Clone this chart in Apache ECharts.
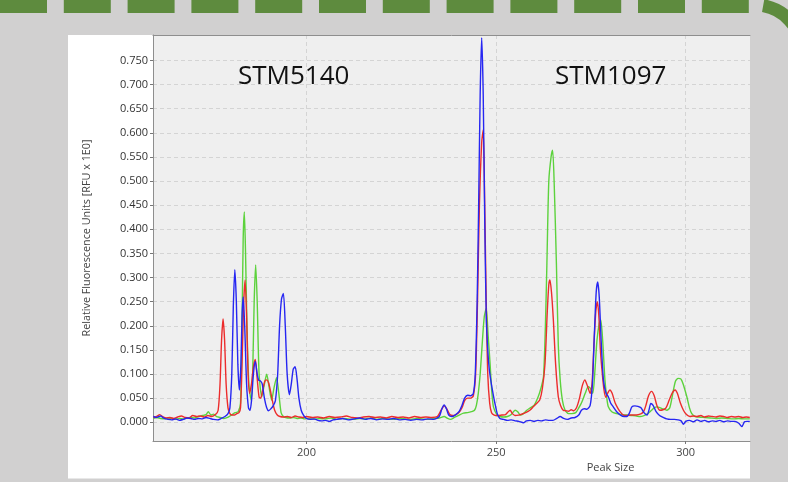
<!DOCTYPE html>
<html>
<head>
<meta charset="utf-8">
<script src="https://cdn.jsdelivr.net/npm/echarts/dist/echarts.min.js"></script>
<style>html,body{margin:0;padding:0;background:#d1d0d0;}#c{width:788px;height:482px;}</style>
</head>
<body>
<div id="c"></div>
<script>
// ---- data (Peak Size vs RFU) ----
const xTicks = [200, 250, 300];
const yAxisTitle = 'Relative Fluorescence Units [RFU x 1E0]';
const xAxisTitle = 'Peak Size';
const markerLabels = ['STM5140', 'STM1097'];

const redSize = [159.6,160.5,161.3,162.2,163,164,165,166,167,168,169,170,171,172,173,174,175,176,176.7,177.2,177.6,178,178.4,178.8,179.3,179.8,180.3,181,181.6,182.2,182.6,183,183.4,183.8,184.2,184.6,185,185.5,186,186.5,187,187.5,187.9,188.4,189,189.5,190,190.5,191,191.6,192.3,193,194,195,196,197,198,199,200,201.5,203,204.5,206,207.5,209,210.5,212,213.5,215,216.5,218,219.5,221,222.5,224,225.5,227,228.5,230,231.5,233,234.5,235.5,236.3,237,237.8,238.6,239.4,240.2,241,241.7,242.5,243.3,244,244.6,245.1,245.6,246.2,246.6,247,247.4,247.8,248.3,248.8,249.5,250.5,251.5,252.5,253.2,253.7,254.3,255,256,256.8,257.8,258.9,259.8,260.8,261.5,262.2,262.9,263.5,263.9,264.2,264.6,265.1,265.7,266.4,267,267.7,268.4,269.1,269.8,270.5,271.2,272,272.7,273.4,274.1,274.8,275.3,275.8,276.3,276.7,277.1,277.5,277.9,278.4,278.9,279.4,280,280.6,281.4,282.2,282.9,283.6,284.5,285.5,286.5,287.5,288.3,288.9,289.5,290.2,291,291.7,292.4,293.2,294,294.8,295.6,296.4,297.2,297.8,298.6,299.4,300.2,301.1,302,303,304,305,306,307,308,309,310,311,312,313,314,315,316,316.9];
const redRFU = [0.010,0.012,0.016,0.011,0.009,0.010,0.008,0.011,0.013,0.010,0.009,0.014,0.012,0.013,0.011,0.014,0.012,0.016,0.025,0.080,0.170,0.214,0.170,0.080,0.030,0.018,0.015,0.015,0.018,0.020,0.030,0.120,0.240,0.295,0.220,0.100,0.060,0.080,0.115,0.130,0.090,0.052,0.050,0.065,0.085,0.088,0.082,0.065,0.045,0.025,0.015,0.012,0.011,0.012,0.010,0.013,0.011,0.010,0.012,0.010,0.011,0.009,0.012,0.010,0.011,0.013,0.010,0.009,0.011,0.012,0.010,0.011,0.009,0.012,0.010,0.011,0.009,0.012,0.010,0.011,0.010,0.012,0.025,0.034,0.028,0.016,0.014,0.016,0.020,0.030,0.045,0.050,0.050,0.055,0.100,0.250,0.450,0.580,0.606,0.450,0.250,0.100,0.040,0.020,0.015,0.014,0.015,0.016,0.022,0.025,0.018,0.014,0.015,0.017,0.020,0.025,0.032,0.040,0.046,0.070,0.122,0.230,0.285,0.295,0.270,0.212,0.120,0.053,0.035,0.025,0.024,0.023,0.026,0.024,0.030,0.050,0.075,0.088,0.075,0.060,0.080,0.160,0.230,0.250,0.220,0.150,0.110,0.070,0.052,0.060,0.067,0.060,0.040,0.028,0.020,0.015,0.014,0.015,0.015,0.016,0.018,0.022,0.035,0.055,0.064,0.055,0.035,0.025,0.026,0.030,0.045,0.060,0.067,0.060,0.040,0.025,0.016,0.012,0.013,0.012,0.014,0.011,0.013,0.012,0.011,0.013,0.012,0.010,0.012,0.011,0.012,0.010,0.011,0.010];

const greenSize = [159.6,160.5,161.5,162.5,163.5,164.5,165.5,166.5,167.5,168.5,169.5,170.5,171.5,172.5,173.5,174.1,174.8,175.5,176.3,177.2,178.2,179.2,180.2,181.2,182,182.6,183,183.3,183.6,183.9,184.3,184.8,185.4,185.8,186.2,186.6,187,187.5,188.2,188.8,189.5,190.1,190.8,191.4,192.1,192.7,193.3,193.9,194.5,195.5,196.5,197.5,198.5,199.5,200.5,202,203.5,205,206.5,208,209.5,211,212.5,214,215.5,217,218.5,220,221.5,223,224.5,226,227.5,229,230.5,232,233.5,235,236.3,237.2,238,239,240,241.4,242.5,243.5,244.3,244.8,245.3,245.8,246.4,246.9,247.4,247.9,248.4,248.9,249.3,250.2,251,252,253,254,255,255.7,256.4,257.2,258.1,259,260,261.1,261.8,262.5,263,263.4,263.9,264.5,264.9,265.3,265.9,266.4,266.9,267.5,268.2,269.1,270,271,271.8,272.5,273.5,274.3,274.9,275.5,276,276.6,277.2,277.6,278.1,278.7,279.2,279.6,280.5,281.8,283,284.5,286,287,288,289,290,291,291.7,292.4,293.3,294.2,295,295.8,296.6,297.3,298,298.7,299.3,300.3,301,301.6,302.5,303.5,305,306.5,308,309.5,311,312.5,314,315.5,316.9];
const greenRFU = [0.008,0.010,0.008,0.007,0.009,0.008,0.006,0.008,0.007,0.009,0.010,0.009,0.012,0.014,0.016,0.022,0.015,0.017,0.012,0.010,0.008,0.010,0.015,0.020,0.022,0.040,0.200,0.380,0.436,0.360,0.200,0.080,0.046,0.100,0.250,0.326,0.250,0.100,0.053,0.075,0.0995,0.075,0.046,0.070,0.0925,0.060,0.020,0.012,0.010,0.009,0.010,0.008,0.009,0.007,0.008,0.006,0.008,0.007,0.009,0.006,0.008,0.007,0.006,0.008,0.007,0.009,0.006,0.008,0.007,0.006,0.008,0.007,0.006,0.008,0.007,0.006,0.008,0.009,0.012,0.008,0.006,0.010,0.014,0.019,0.020,0.022,0.025,0.035,0.060,0.100,0.170,0.220,0.236,0.180,0.123,0.060,0.032,0.016,0.012,0.011,0.012,0.016,0.025,0.022,0.015,0.018,0.025,0.030,0.035,0.053,0.070,0.095,0.200,0.330,0.500,0.550,0.564,0.500,0.330,0.160,0.088,0.045,0.025,0.018,0.018,0.020,0.030,0.040,0.060,0.074,0.070,0.060,0.100,0.170,0.205,0.212,0.170,0.088,0.050,0.032,0.022,0.018,0.016,0.015,0.014,0.013,0.012,0.014,0.018,0.025,0.030,0.032,0.030,0.027,0.025,0.030,0.060,0.085,0.091,0.090,0.080,0.053,0.030,0.018,0.012,0.011,0.010,0.009,0.008,0.009,0.008,0.007,0.008,0.007,0.007];

const blueSize = [159.6,160.5,161.5,162.5,163.5,164.5,165.5,166.5,167.5,168.5,169.5,170.5,171.5,172.5,173.5,174.5,175.5,176.5,177.5,178.5,179.3,179.8,180.3,180.7,181.1,181.5,181.9,182.3,182.7,183,183.3,183.7,184.2,184.7,185.1,185.5,186,186.5,187,187.4,187.8,188.3,188.9,189.5,190,190.6,191.2,191.8,192.4,192.9,193.4,193.9,194.4,194.9,195.5,196,196.5,197,197.5,198,198.6,199.2,200,201,202,203,204,205,206,207,208,209.5,211,212.5,214,215.5,217,218.5,220,221.5,223,224.5,226,227.5,229,230.5,232,233.5,235,235.7,236.3,236.9,237.5,238.3,239.2,240.2,241,241.7,242.5,243.3,244,244.5,245,245.4,245.8,246.2,246.6,247,247.4,247.8,248.2,248.8,249.3,249.7,250.3,251,252,253,254,255,256,257.2,258,259,260,261,262,263,264,265,266,266.9,267.8,268.8,269.8,270.8,271.8,272.5,273.3,273.9,274.8,275.4,275.9,276.4,276.8,277.2,277.7,278.3,279,279.6,280.2,280.9,281.8,282.8,283.8,284.5,285.2,285.8,286.6,287.4,288.2,289,289.8,290.3,290.8,291.4,292.2,293.1,294.1,295,296,297,298,298.8,299.4,300,301,302,303,304,305,306,307,308,309,310,311,312,313,314,314.8,315.5,316.2,316.9];
const blueRFU = [0.012,0.010,0.013,0.008,0.006,0.005,0.007,0.004,0.006,0.009,0.008,0.006,0.008,0.007,0.010,0.008,0.006,0.005,0.008,0.012,0.018,0.030,0.100,0.240,0.316,0.250,0.120,0.067,0.120,0.220,0.260,0.200,0.080,0.030,0.025,0.045,0.100,0.126,0.100,0.087,0.086,0.080,0.050,0.030,0.024,0.028,0.034,0.045,0.100,0.200,0.255,0.267,0.200,0.100,0.057,0.080,0.110,0.115,0.090,0.050,0.025,0.015,0.008,0.006,0.007,0.004,0.003,0.004,0.002,0.005,0.006,0.008,0.005,0.007,0.009,0.006,0.008,0.005,0.007,0.006,0.008,0.005,0.006,0.004,0.006,0.005,0.007,0.006,0.012,0.028,0.036,0.028,0.015,0.012,0.015,0.022,0.035,0.050,0.056,0.055,0.060,0.100,0.250,0.450,0.680,0.797,0.680,0.420,0.220,0.150,0.110,0.077,0.055,0.039,0.018,0.008,0.006,0.004,0.005,0.003,0.002,-0.001,0.003,0.004,0.002,0.004,0.003,0.005,0.004,0.004,0.008,0.012,0.008,0.006,0.009,0.010,0.015,0.025,0.028,0.027,0.035,0.080,0.180,0.270,0.291,0.260,0.170,0.088,0.060,0.053,0.040,0.032,0.022,0.015,0.012,0.012,0.020,0.032,0.034,0.033,0.030,0.020,0.015,0.025,0.039,0.035,0.022,0.014,0.010,0.007,0.006,0.006,0.005,0.003,-0.004,0.002,0.004,0.001,0.005,0.002,0.004,0.001,0.003,0.002,0.004,0.001,0.003,0.002,0.002,-0.002,-0.009,0.001,0.002,0.002];

function zip(a, b) { return a.map((v, i) => [v, b[i]]); }

// ---- layout ----
const plotL = 153, plotR = 750, plotT = 35, plotB = 441;
const px200 = 306.5, px300 = 685.7;   // pixel x of 200 and 300
const py0 = 422.3, py075 = 60.4;      // pixel y of 0 and 0.75
const ppuX = (px300 - px200) / 100;
const ppuY = (py0 - py075) / 0.75;
const xMin = 200 - (px200 - plotL) / ppuX;
const xMax = 300 + (plotR - px300) / ppuX;
const yMin = -(plotB - py0) / ppuY;
const yMax = (py0 - plotT) / ppuY;

const W = 788, H = 482;
const font = '"Open Sans","Noto Sans",sans-serif';
const dashGreen = '#5e8b3e';
const frameColor = '#8e8e8e';

const graphics = [
  { type: 'rect', z: -5, shape: { x: 68, y: 35, width: 682, height: 443.5 }, style: { fill: '#ffffff' } }
];
for (let i = 0; i < 12; i++) {
  graphics.push({ type: 'rect', z: 5, shape: { x: i * 63.8, y: 0, width: 47, height: 13 }, style: { fill: dashGreen } });
}
graphics.push({ type: 'arc', z: 5, shape: { cx: 755, cy: 52, r: 47, startAngle: -80 * Math.PI / 180, endAngle: -5 * Math.PI / 180, clockwise: true },
  style: { stroke: dashGreen, lineWidth: 13, fill: null } });
graphics.push({ type: 'text', z: 10, x: 238, y: 77, style: { text: markerLabels[0], font: '26px ' + font, fill: '#111', verticalAlign: 'middle' } });
graphics.push({ type: 'text', z: 10, x: 555, y: 77, style: { text: markerLabels[1], font: '26px ' + font, fill: '#111', verticalAlign: 'middle' } });
graphics.push({ type: 'text', z: 10, x: 610.5, y: 468, style: { text: xAxisTitle, font: '11px ' + font, fill: '#444', align: 'center', verticalAlign: 'middle' } });

const frameAxis = { axisLine: { show: true, onZero: false, lineStyle: { color: frameColor, width: 1 } }, axisTick: { show: false }, axisLabel: { show: false }, splitLine: { show: false } };

const chart = echarts.init(document.getElementById('c'), null, { renderer: 'canvas' });
chart.setOption({
  backgroundColor: '#d1d0d0',
  animation: false,
  graphic: graphics,
  grid: [
    { left: plotL, right: W - plotR, top: plotT, bottom: H - plotB, show: true, backgroundColor: '#efefef', borderWidth: 0 },
    { left: plotL, right: W - plotR, top: py075, bottom: H - py0, show: false },
    { left: px200, right: W - px300, top: plotT, bottom: H - plotB, show: false }
  ],
  xAxis: [
    Object.assign({ gridIndex: 0, type: 'value', min: xMin, max: xMax, position: 'bottom' }, frameAxis),
    { gridIndex: 1, type: 'value', min: 0, max: 1, show: false },
    { gridIndex: 2, type: 'value', min: xTicks[0], max: xTicks[xTicks.length - 1], interval: xTicks[1] - xTicks[0],
      axisLine: { show: false },
      axisTick: { show: true, length: 3, lineStyle: { color: '#777' } },
      axisLabel: { fontSize: 11, color: '#444', margin: 6, fontFamily: font },
      splitLine: { show: true, lineStyle: { color: '#d4d4d4', type: [4, 3] } } },
    Object.assign({ gridIndex: 0, type: 'value', min: xMin, max: xMax, position: 'top' }, frameAxis)
  ],
  yAxis: [
    Object.assign({ gridIndex: 0, type: 'value', min: yMin, max: yMax, position: 'left',
      name: yAxisTitle, nameLocation: 'middle', nameGap: 61, nameRotate: 90,
      nameTextStyle: { fontSize: 10.8, color: '#444', fontFamily: font } }, frameAxis),
    { gridIndex: 1, type: 'value', min: 0, max: 0.75, interval: 0.05,
      axisLine: { show: false },
      axisTick: { show: true, length: 3, lineStyle: { color: '#777' } },
      axisLabel: { fontSize: 11, color: '#333', margin: 5, fontFamily: font, formatter: v => v.toFixed(3) },
      splitLine: { show: true, lineStyle: { color: '#d4d4d4', type: [4, 3] } } },
    { gridIndex: 2, type: 'value', min: 0, max: 1, show: false }
  ],
  series: [
    { name: 'green', type: 'line', xAxisIndex: 0, yAxisIndex: 0, data: zip(greenSize, greenRFU), showSymbol: false, smooth: 0.25,
      lineStyle: { color: '#5cd23c', width: 1.4 }, z: 3 },
    { name: 'red', type: 'line', xAxisIndex: 0, yAxisIndex: 0, data: zip(redSize, redRFU), showSymbol: false, smooth: 0.25,
      lineStyle: { color: '#ec2c2c', width: 1.4 }, z: 4 },
    { name: 'blue', type: 'line', xAxisIndex: 0, yAxisIndex: 0, data: zip(blueSize, blueRFU), showSymbol: false, smooth: 0.25,
      lineStyle: { color: '#2626f2', width: 1.4 }, z: 5 }
  ]
});
</script>
</body>
</html>
